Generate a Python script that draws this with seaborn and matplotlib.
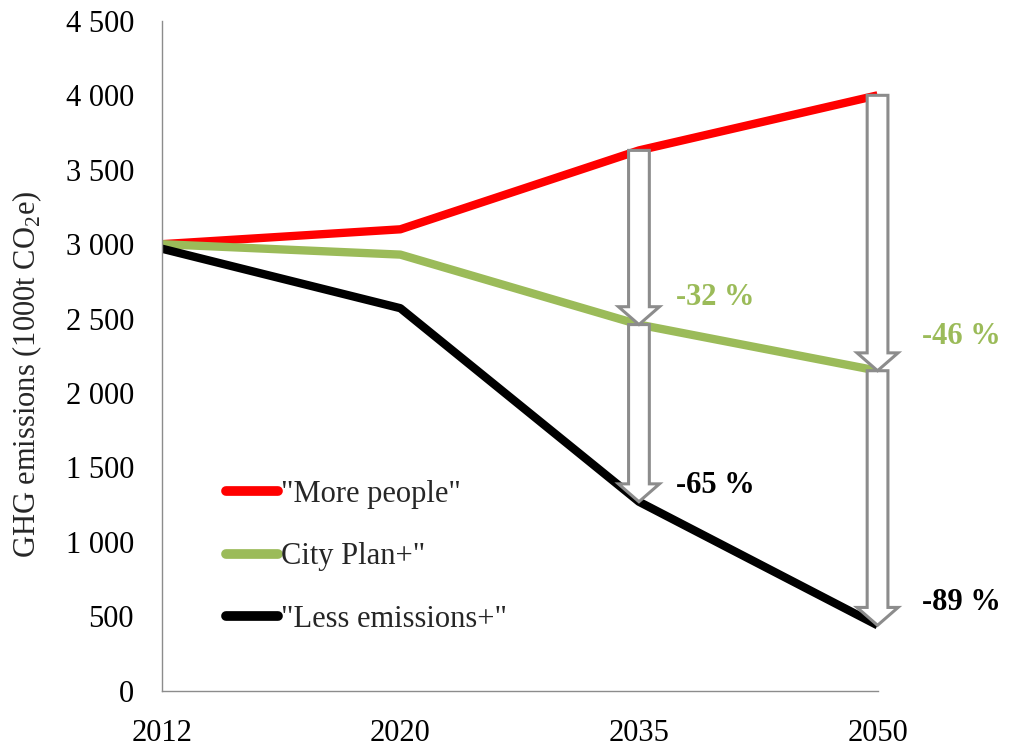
import numpy as np
import pandas as pd
import matplotlib
matplotlib.use("Agg")
import matplotlib.pyplot as plt
import matplotlib.patches as mpatches
from matplotlib.ticker import FuncFormatter, MultipleLocator
import seaborn as sns

# Scenario emissions, 1000 t CO2e
years = ["2012", "2020", "2035", "2050"]
more_people = [3000, 3100, 3630, 4000]
city_plan = [3000, 2930, 2460, 2150]
less_emissions = [2970, 2570, 1270, 440]
scenarios = ['"More people"', 'City Plan+"', '"Less emissions+"']
colors = ["#FF0000", "#9BBB59", "#000000"]

sns.set_theme(style="white")
plt.rcParams["font.family"] = ["Liberation Serif", "DejaVu Serif"]
plt.rcParams["mathtext.fontset"] = "custom"
plt.rcParams["mathtext.rm"] = "Liberation Serif"

series = [more_people, city_plan, less_emissions]
df = pd.DataFrame({
    "pos": np.tile(np.arange(len(years)), len(scenarios)),
    "value": np.concatenate(series),
    "scenario": np.repeat(scenarios, len(years)),
})

fig = plt.figure(figsize=(10.11, 7.46), dpi=100)
ax = fig.add_axes([0.160, 0.074, 0.708, 0.898])

sns.lineplot(data=df, x="pos", y="value", hue="scenario", hue_order=scenarios,
             palette=colors, linewidth=6, ax=ax, legend=False, zorder=2,
             solid_capstyle="butt", solid_joinstyle="round")

ax.set_xlim(0, len(years) - 1)
ax.set_ylim(0, 4500)
ax.set_xticks(range(len(years)))
ax.set_xticklabels(years)
ax.yaxis.set_major_locator(MultipleLocator(500))
ax.yaxis.set_major_formatter(FuncFormatter(lambda v, _: f"{int(v):,}".replace(",", " ")))
ax.tick_params(axis="both", labelsize=22, length=0, colors="black")
ax.tick_params(axis="y", pad=20)
ax.tick_params(axis="x", pad=20)
ax.set_xlabel("")
ax.set_ylabel("GHG emissions (1000t CO$_2$e)", fontsize=22)
ax.yaxis.set_label_coords(-0.164, 0.472)

for side in ["top", "right"]:
    ax.spines[side].set_visible(False)
for side in ["left", "bottom"]:
    ax.spines[side].set_color("#8C8C8C")
    ax.spines[side].set_linewidth(1.0)

# Reduction arrows and percentage labels at 2035 and 2050
shaft_w, head_w, head_len = 0.087, 0.172, 120
label_dx = {2: 0.32, 3: 0.35}
green_dy = {2: 180, 3: 230}
black_dy = {2: 110, 3: 150}
for i in (2, 3):
    r, g, b = more_people[i], city_plan[i], less_emissions[i]
    lower = mpatches.FancyArrow(i, g, 0, b - g, width=shaft_w, head_width=head_w,
                                head_length=head_len, length_includes_head=True,
                                fc="white", ec="#8C8C8C", lw=2.2, zorder=4,
                                clip_on=False)
    upper = mpatches.FancyArrow(i, r, 0, g - r, width=shaft_w, head_width=head_w,
                                head_length=head_len, length_includes_head=True,
                                fc="white", ec="#8C8C8C", lw=2.2, zorder=5,
                                clip_on=False)
    ax.add_patch(lower)
    ax.add_patch(upper)
    pg = round((g / r - 1) * 100)
    pb = round((b / r - 1) * 100)
    ax.text(i + label_dx[i], g + green_dy[i], f"{pg} %", color=colors[1],
            fontsize=22, fontweight="bold", ha="center", va="center", clip_on=False)
    ax.text(i + label_dx[i], b + black_dy[i], f"{pb} %", color=colors[2],
            fontsize=22, fontweight="bold", ha="center", va="center", clip_on=False)

handles = [plt.Line2D([], [], color=c, lw=7, solid_capstyle="round") for c in colors]
fig.legend(handles, scenarios, loc="upper left", bbox_to_anchor=(0.224, 0.357),
           frameon=False, fontsize=22, handlelength=1.7, handletextpad=0.08,
           labelspacing=1.1, borderpad=0, borderaxespad=0)

fig.savefig("out.png", dpi=100)
